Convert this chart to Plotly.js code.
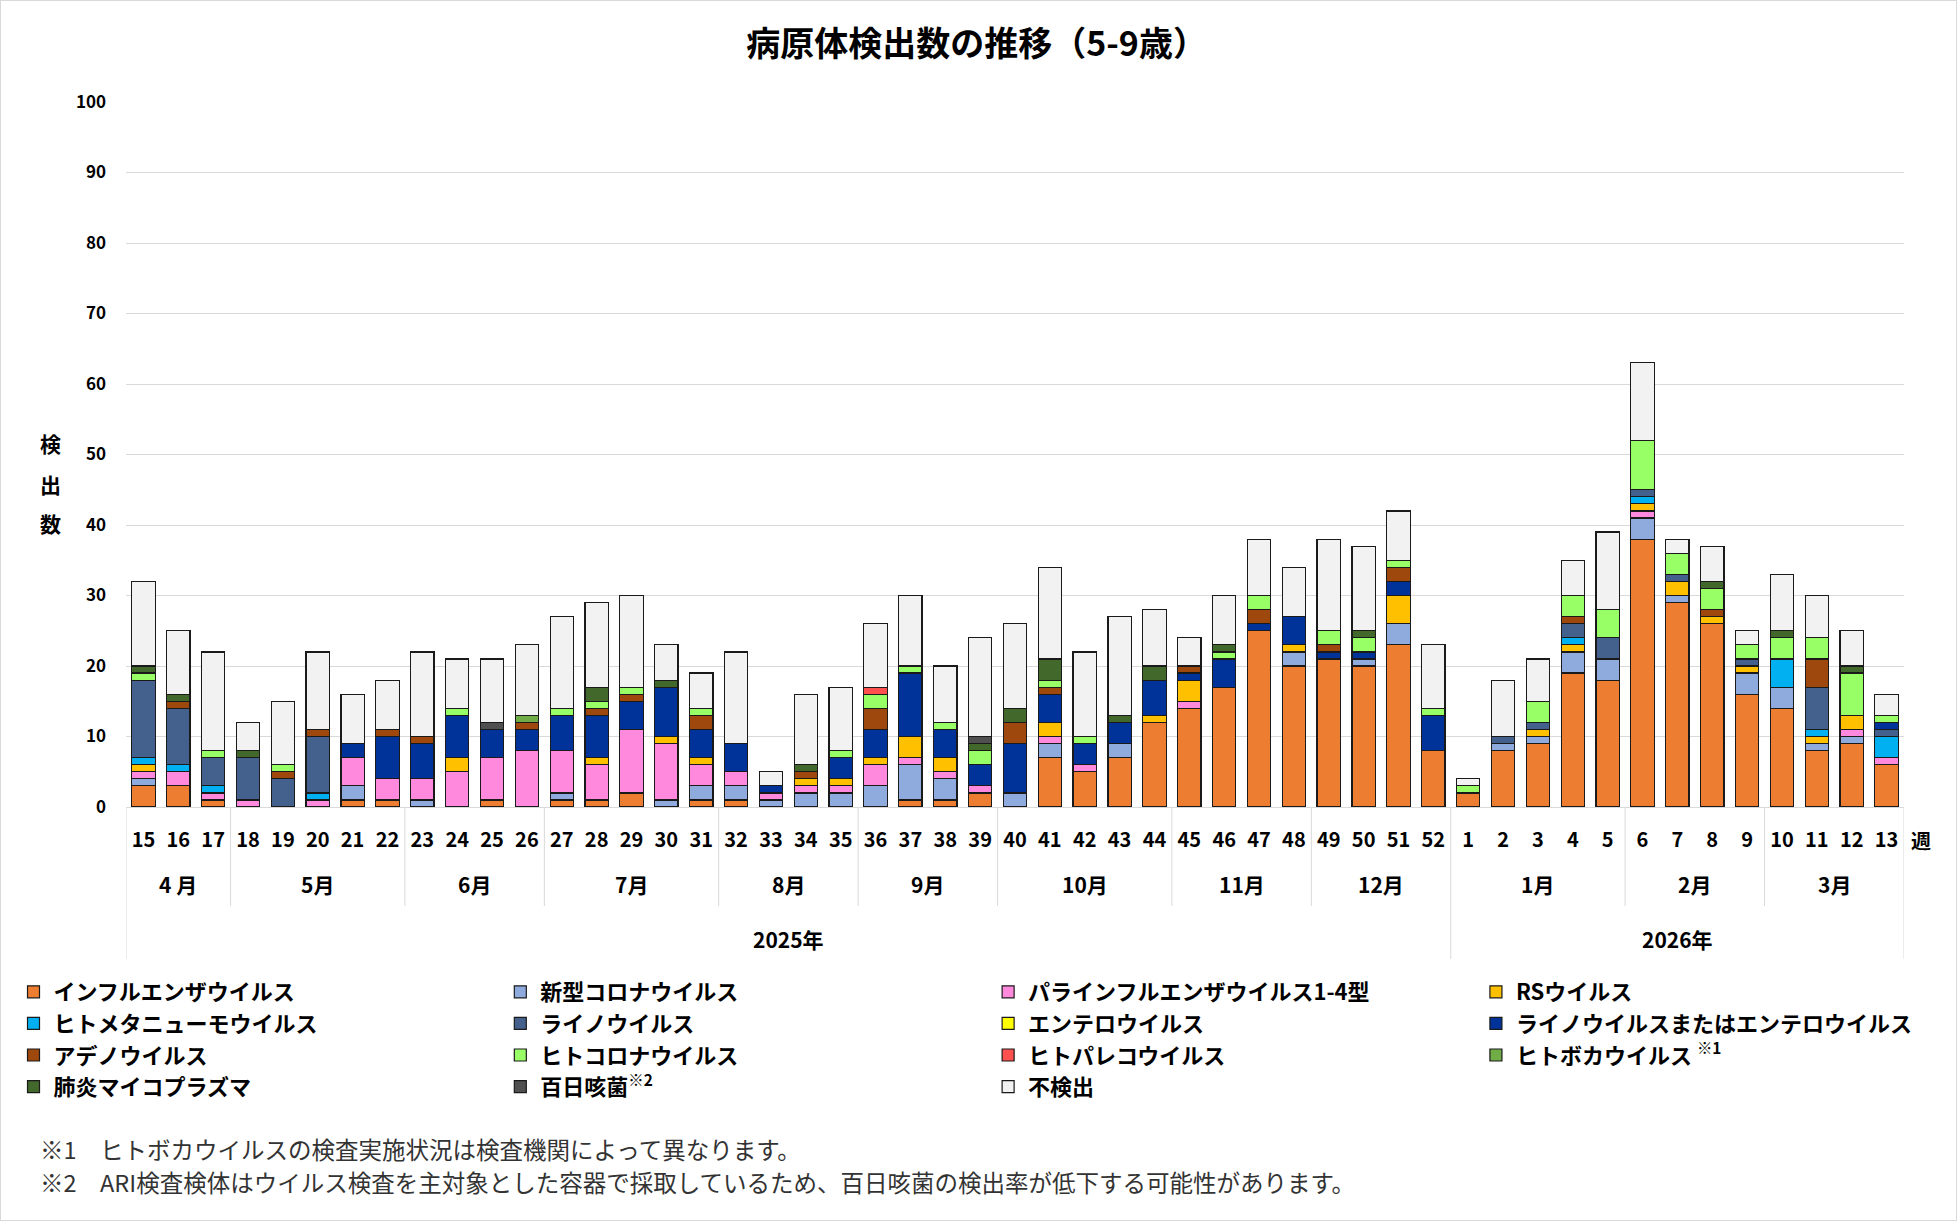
<!DOCTYPE html>
<html><head><meta charset="utf-8">
<script src="https://cdn.plot.ly/plotly-3.0.1.min.js"></script>
<style>
body{margin:0;background:#fff}
#wrap{width:1957px;height:1221px;box-sizing:border-box;border:1px solid #d9d9d9;overflow:hidden;background:#fff}
#chart{width:1955px;height:1219px}
</style>
</head><body><div id="wrap"><div id="chart"></div></div>
<script>
// ---- data ----
const weeks = ['15','16','17','18','19','20','21','22','23','24','25','26','27','28','29','30','31','32','33','34','35','36','37','38','39','40','41','42','43','44','45','46','47','48','49','50','51','52','1','2','3','4','5','6','7','8','9','10','11','12','13'];
const monthLabels = ['4 月','5月','6月','7月','8月','9月','10月','11月','12月','1月','2月','3月'];
const monthSpans  = [3,5,4,5,4,4,5,4,4,5,4,4];
const yearLabels = ['2025年','2026年'];
const yearSpans  = [38,13];

const seriesNames = ['インフルエンザウイルス','新型コロナウイルス','パラインフルエンザウイルス1-4型','RSウイルス',
  'ヒトメタニューモウイルス','ライノウイルス','エンテロウイルス','ライノウイルスまたはエンテロウイルス',
  'アデノウイルス','ヒトコロナウイルス','ヒトパレコウイルス','ヒトボカウイルス <sup>※1</sup>',
  '肺炎マイコプラズマ','百日咳菌<sup>※2</sup>','不検出'];
const seriesColors = ['#ED7D31','#8FAADC','#FF89DD','#FFC000','#00B0F0','#44608C','#FFFF00','#003399',
  '#9E480E','#99FF66','#FF5050','#70AD47','#43682B','#505050','#F2F2F2'];

const influenza = [3,3,1, 0,0,0,1,1, 0,0,1,0, 1,1,2,0,1, 1,0,0,0, 0,1,1,2, 0,7,5,7,12, 14,17,25,20, 21,20,23,8, 2,8,9,19,18, 38,29,26,16, 14,8,9,6];
const covid     = [1,0,0, 0,0,0,2,0, 1,0,0,0, 1,0,0,1,2, 2,1,2,2, 3,5,3,0, 2,2,0,2,0, 0,0,0,2, 0,1,3,0, 0,1,1,3,3, 3,1,0,3, 3,1,1,0];
const parainfl  = [1,2,1, 1,0,1,4,3, 3,5,6,8, 6,5,9,8,3, 2,1,1,1, 3,1,1,1, 0,1,1,0,0, 1,0,0,0, 0,0,0,0, 0,0,0,0,0, 1,0,0,0, 0,0,1,1];
const rsv       = [1,0,0, 0,0,0,0,0, 0,2,0,0, 0,1,0,1,1, 0,0,1,1, 1,3,2,0, 0,2,0,0,1, 3,0,0,1, 0,0,4,0, 0,0,1,1,0, 1,2,1,1, 0,1,2,0];
const hmpv      = [1,1,1, 0,0,1,0,0, 0,0,0,0, 0,0,0,0,0, 0,0,0,0, 0,0,0,0, 0,0,0,0,0, 0,0,0,0, 0,0,0,0, 0,0,0,1,0, 1,0,0,0, 4,1,0,3];
const rhino     = [11,8,4, 6,4,8,0,0, 0,0,0,0, 0,0,0,0,0, 0,0,0,0, 0,0,0,0, 0,0,0,0,0, 0,0,0,0, 0,0,0,0, 0,1,1,2,3, 1,1,0,1, 0,6,0,1];
const entero    = [0,0,0, 0,0,0,0,0, 0,0,0,0, 0,0,0,0,0, 0,0,0,0, 0,0,0,0, 0,0,0,0,0, 0,0,0,0, 0,0,0,0, 0,0,0,0,0, 0,0,0,0, 0,0,0,0];
const rhinoOrEntero = [0,0,0, 0,0,0,2,6, 5,6,4,3, 5,6,4,7,4, 4,1,0,3, 4,9,4,3, 7,4,3,3,5, 1,4,1,4, 1,1,2,5, 0,0,0,0,0, 0,0,0,0, 0,0,0,1];
const adeno     = [0,1,0, 0,1,1,0,1, 1,0,0,1, 0,1,1,0,2, 0,0,1,0, 3,0,0,0, 3,1,0,0,0, 1,0,2,0, 1,0,2,0, 0,0,0,1,0, 0,0,1,0, 0,4,0,0];
const hcov      = [1,0,1, 0,1,0,0,0, 0,1,0,0, 1,1,1,0,1, 0,0,0,1, 2,1,1,2, 0,1,1,0,0, 0,1,2,0, 2,2,1,1, 1,0,3,3,4, 7,3,3,2, 3,3,6,1];
const parecho   = [0,0,0, 0,0,0,0,0, 0,0,0,0, 0,0,0,0,0, 0,0,0,0, 1,0,0,0, 0,0,0,0,0, 0,0,0,0, 0,0,0,0, 0,0,0,0,0, 0,0,0,0, 0,0,0,0];
const boca      = [0,0,0, 0,0,0,0,0, 0,0,0,1, 0,0,0,0,0, 0,0,0,0, 0,0,0,0, 0,0,0,0,0, 0,0,0,0, 0,0,0,0, 0,0,0,0,0, 0,0,0,0, 0,0,0,0];
const mycoplasma= [1,1,0, 1,0,0,0,0, 0,0,0,0, 0,2,0,1,0, 0,0,1,0, 0,0,0,1, 2,3,0,1,2, 0,1,0,0, 0,1,0,0, 0,0,0,0,0, 0,0,1,0, 1,0,1,0];
const pertussis = [0,0,0, 0,0,0,0,0, 0,0,1,0, 0,0,0,0,0, 0,0,0,0, 0,0,0,1, 0,0,0,0,0, 0,0,0,0, 0,0,0,0, 0,0,0,0,0, 0,0,0,0, 0,0,0,0];
const notDetected = [12,9,14, 4,9,11,7,7, 12,7,9,10, 13,12,13,5,5, 13,2,10,9, 9,10,8,14, 12,13,12,14,8, 4,7,8,7, 13,12,7,9, 1,8,6,5,11, 11,2,5,2, 8,6,5,3];

const seriesValues = [influenza,covid,parainfl,rsv,hmpv,rhino,entero,rhinoOrEntero,adeno,hcov,parecho,boca,mycoplasma,pertussis,notDetected];

const footnotes = ['※1　ヒトボカウイルスの検査実施状況は検査機関によって異なります。',
  '※2　ARI検査検体はウイルス検査を主対象とした容器で採取しているため、百日咳菌の検出率が低下する可能性があります。'];
const yTitle = '検出数';

// ---- layout helpers (page pixels -> paper) ----
const FONT = '"Noto Sans CJK JP", "Noto Sans", sans-serif';
const PL = 118, PR = 1904, PT = 102, PB = 807;
const fx = p => (p - PL) / (PR - PL);
const fy = p => (PB - p) / (PB - PT);

const legendCols = [5, 494, 984, 1474];
const traces = seriesNames.map((name, i) => ({
  type: 'bar', name: name, x: weeks,
  y: seriesValues[i].map(v => v === 0 ? null : v),
  marker: {color: seriesColors[i], line: {color: '#1a1a1a', width: 1.2}},
  legend: (i % 4 === 0) ? 'legend' : 'legend' + (i % 4 + 1),
  hoverinfo: 'x+y+name'
}));

const annotations = [];
const shapes = [];
// month labels
let acc = 0;
monthSpans.forEach((s, i) => {
  annotations.push({xref: 'x', yref: 'paper', x: acc + s / 2 - 0.5, y: fy(884), text: monthLabels[i],
    showarrow: false, xanchor: 'center', yanchor: 'middle', font: {family: FONT, size: 21, color: '#000', weight: 'bold'}});
  acc += s;
});
// year labels
const yearBounds = [-0.5];
let ya = 0;
yearSpans.forEach((s, i) => {
  annotations.push({xref: 'x', yref: 'paper', x: ya + s / 2 - 0.5, y: fy(939), text: yearLabels[i],
    showarrow: false, xanchor: 'center', yanchor: 'middle', font: {family: FONT, size: 21, color: '#000', weight: 'bold'}});
  ya += s; yearBounds.push(ya - 0.5);
});
// group separators
let ma = 0;
const monthBounds = [-0.5];
monthSpans.forEach(s => { ma += s; monthBounds.push(ma - 0.5); });
monthBounds.forEach(b => {
  const isYear = yearBounds.some(v => Math.abs(v - b) < 1e-9);
  shapes.push({type: 'line', xref: 'x', yref: 'paper', x0: b, x1: b, y0: 0, y1: isYear ? fy(959) : fy(906),
    line: {color: '#D9D9D9', width: 1}});
});
// 週 label
annotations.push({xref: 'paper', yref: 'paper', x: fx(1921), y: fy(840), text: '週', showarrow: false,
  xanchor: 'center', yanchor: 'middle', font: {family: FONT, size: 20, color: '#000', weight: 'bold'}});
// y title, stacked characters
const yTitleRows = [443, 484, 523];
yTitle.split('').forEach((ch, i) => {
  annotations.push({xref: 'paper', yref: 'paper', x: fx(42), y: fy(yTitleRows[i]), text: ch, showarrow: false,
    xanchor: 'center', yanchor: 'middle', font: {family: FONT, size: 21, color: '#000', weight: 'bold'}});
});
// footnotes
const footRows = [1149, 1182];
footnotes.forEach((t, i) => {
  annotations.push({xref: 'paper', yref: 'paper', x: fx(30), y: fy(footRows[i]), text: t, showarrow: false,
    xanchor: 'left', yanchor: 'middle', font: {family: FONT, size: 23.5, color: '#333'}});
});

const legendBase = {orientation: 'v', yanchor: 'top', xanchor: 'left', y: fy(971),
  font: {family: FONT, size: 22, color: '#000', weight: 'bold'}, bgcolor: 'rgba(0,0,0,0)', borderwidth: 0, traceorder: 'normal'};

const layout = {
  width: 1955, height: 1219,
  margin: {l: PL - 1, r: 1955 - (PR - 1), t: PT - 1, b: 1219 - (PB - 1), pad: 0},
  paper_bgcolor: '#fff', plot_bgcolor: '#fff',
  font: {family: FONT, color: '#000'},
  title: {text: '病原体検出数の推移（5-9歳）', x: 0.499, xref: 'container', xanchor: 'center',
    y: 1 - 43 / 1221, yref: 'container', yanchor: 'middle',
    font: {family: FONT, size: 34, color: '#000', weight: 'bold'}},
  barmode: 'stack', bargap: 0.33,
  xaxis: {type: 'category', range: [-0.5, 50.5], showgrid: false, showline: false, ticks: '',
    tickfont: {family: FONT, size: 20, color: '#000', weight: 'bold'}, ticklabelstandoff: 19, tickangle: 0,
    fixedrange: true},
  yaxis: {range: [0, 100], dtick: 10, showgrid: true, gridcolor: '#D9D9D9', gridwidth: 1,
    zeroline: true, zerolinecolor: '#D9D9D9', zerolinewidth: 1, showline: false, ticks: '',
    tickfont: {family: FONT, size: 17, color: '#000', weight: 'bold'}, ticklabelstandoff: 19, fixedrange: true},
  legend:  Object.assign({}, legendBase, {x: fx(legendCols[0])}),
  legend2: Object.assign({}, legendBase, {x: fx(legendCols[1])}),
  legend3: Object.assign({}, legendBase, {x: fx(legendCols[2])}),
  legend4: Object.assign({}, legendBase, {x: fx(legendCols[3])}),
  annotations: annotations, shapes: shapes, showlegend: true
};

Plotly.newPlot('chart', traces, layout, {displayModeBar: false, staticPlot: true});
</script>
</body></html>
